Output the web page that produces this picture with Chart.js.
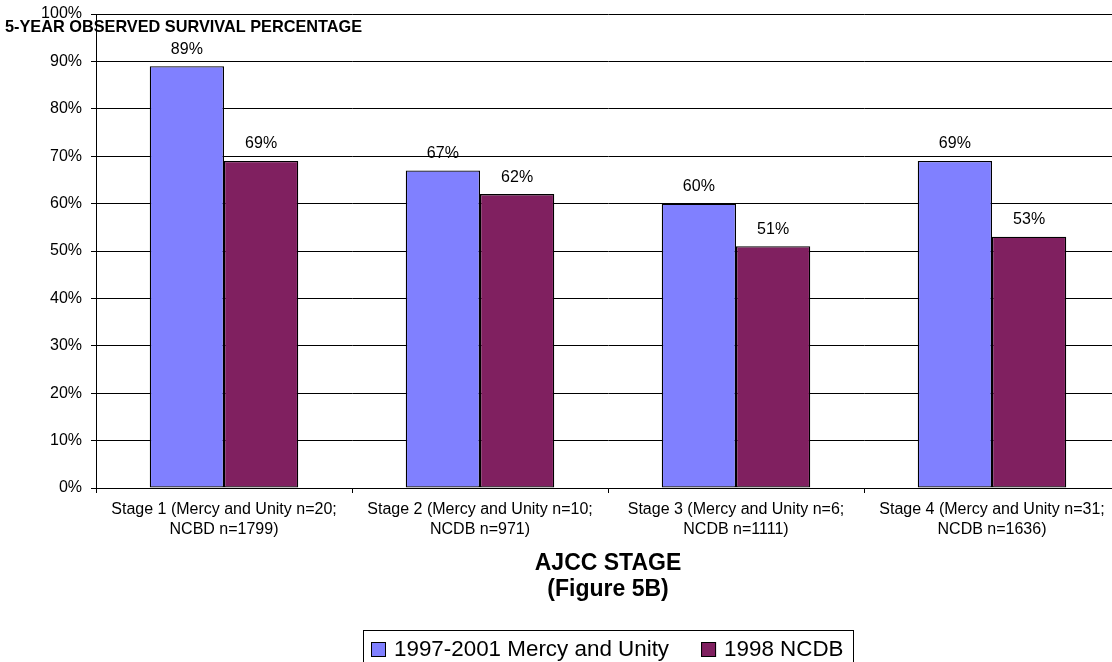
<!DOCTYPE html>
<html>
<head>
<meta charset="utf-8">
<script src="https://cdn.jsdelivr.net/npm/chart.js@4.4.1/dist/chart.umd.min.js"></script>
<style>
  html, body { margin: 0; padding: 0; background: #fff; overflow: hidden; }
  #wrap { width: 1112px; height: 662px; overflow: hidden; }
</style>
</head>
<body>
<div id="wrap"><canvas id="myChart" width="1120" height="662"></canvas></div>
<script>
var stageLabels = [
  ["Stage 1 (Mercy and Unity n=20;", "NCBD n=1799)"],
  ["Stage 2 (Mercy and Unity n=10;", "NCDB n=971)"],
  ["Stage 3 (Mercy and Unity n=6;", "NCDB n=1111)"],
  ["Stage 4 (Mercy and Unity n=31;", "NCDB n=1636)"]
];
var mercyValues = [89, 67, 60, 69];
var ncdbValues = [69, 62, 51, 53];
var seriesNames = ["1997-2001 Mercy and Unity", "1998 NCDB"];
var barColors = ["#8080FF", "#802060"];
var yTitle = "5-YEAR OBSERVED SURVIVAL PERCENTAGE";
var xTitle = ["AJCC STAGE", "(Figure 5B)"];

var FONT = "Arial, 'Liberation Sans', sans-serif";
Chart.defaults.font.family = FONT;
Chart.defaults.color = '#000';

// value labels over the bars, y title, and the boxed legend at the bottom
const extras = {
  id: 'extras',
  afterDatasetsDraw(chart) {
    const c = chart.ctx;
    c.save();
    c.font = "16px " + FONT;
    c.fillStyle = '#000';
    c.textAlign = 'center';
    c.textBaseline = 'middle';
    chart.data.datasets.forEach((ds, i) => {
      chart.getDatasetMeta(i).data.forEach((bar, j) => {
        c.fillText(ds.data[j] + '%', bar.x, bar.y - 17);
      });
    });
    c.restore();
  },
  afterDraw(chart) {
    const c = chart.ctx;
    c.save();
    c.font = "bold 16.3px " + FONT;
    c.fillStyle = '#000';
    c.textAlign = 'left';
    c.textBaseline = 'middle';
    c.fillText(yTitle, 5, 28);

    // legend
    c.font = "22.4px " + FONT;
    const sq = 15, gapText = 8, gapItem = 32, padL = 8, padR = 9;
    const ds = chart.data.datasets;
    let total = padL + padR;
    ds.forEach((d, i) => {
      total += sq + gapText + c.measureText(d.label).width;
      if (i < ds.length - 1) total += gapItem;
    });
    const area = chart.chartArea;
    const left = Math.round((area.left + area.right) / 2 - total / 2);
    const top = 630, cy = 650;
    c.strokeStyle = '#000';
    c.lineWidth = 1;
    c.strokeRect(left + 0.5, top + 0.5, Math.round(total), 60);
    let x = left + padL;
    ds.forEach((d, i) => {
      c.fillStyle = d.backgroundColor;
      c.fillRect(x, 642, sq, sq);
      c.strokeRect(x + 0.5, 642.5, sq - 1, sq - 1);
      x += sq + gapText;
      c.fillStyle = '#000';
      c.fillText(d.label, x, cy);
      x += c.measureText(d.label).width + gapItem;
    });
    c.restore();
  }
};

const config = {
  type: 'bar',
  data: {
    labels: stageLabels,
    datasets: [
      {
        label: seriesNames[0],
        data: mercyValues,
        backgroundColor: barColors[0],
        borderColor: '#000',
        borderWidth: 1.3,
        borderSkipped: false
      },
      {
        label: seriesNames[1],
        data: ncdbValues,
        backgroundColor: barColors[1],
        borderColor: '#000',
        borderWidth: 1.3,
        borderSkipped: false
      }
    ]
  },
  options: {
    responsive: false,
    animation: false,
    datasets: {
      bar: { categoryPercentage: 0.58, barPercentage: 1.0 }
    },
    layout: { padding: { top: 14, left: 0, right: 0, bottom: 0 } },
    plugins: {
      tooltip: { enabled: false },
      legend: { display: false }
    },
    scales: {
      y: {
        min: 0,
        max: 100,
        ticks: {
          stepSize: 10,
          font: { size: 16 },
          padding: 9,
          callback: v => v + '%'
        },
        grid: { color: '#000', tickLength: 5, tickColor: '#000' },
        border: { color: '#000' },
        afterFit: s => { s.width = 96; s.paddingTop = 0; s.paddingBottom = 0; }
      },
      x: {
        ticks: { font: { size: 16, lineHeight: 1.25 }, padding: 7, maxRotation: 0, autoSkip: false },
        grid: { drawOnChartArea: false, tickLength: 5, tickColor: '#000' },
        border: { color: '#000' },
        title: {
          display: true,
          text: xTitle,
          font: { size: 23, weight: 'bold', lineHeight: 1.13 },
          padding: { top: 10, bottom: 59 }
        },
        afterFit: s => { s.height = 174; s.paddingLeft = 0; s.paddingRight = 0; }
      }
    }
  },
  plugins: [extras]
};

var ctx = document.getElementById('myChart');
var myChart = new Chart(ctx, config);
</script>
</body>
</html>
